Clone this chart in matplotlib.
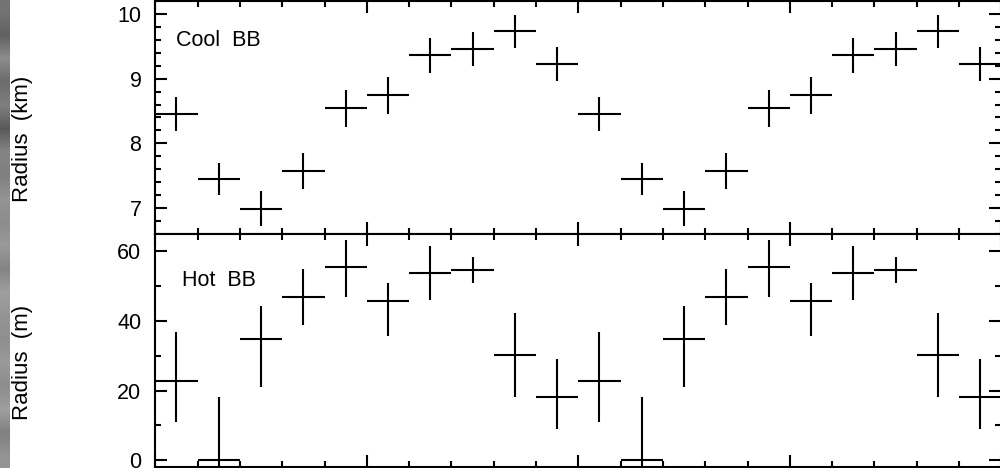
"""Blackbody radius vs pulse phase, two cycles"""

import numpy as np
import matplotlib
matplotlib.use('Agg')
import matplotlib.pyplot as plt
from matplotlib.ticker import MultipleLocator

# phase bins (one cycle, 10 bins of width 0.1)
phase = np.arange(0.05, 1.0, 0.1)
half_bin = 0.05

# cool blackbody radius (km) and its 1-sigma errors
cool_r = [8.45, 7.45, 6.99, 7.57, 8.54, 8.74, 9.36, 9.46, 9.73, 9.23]
cool_err = [0.26, 0.25, 0.27, 0.28, 0.28, 0.28, 0.27, 0.26, 0.26, 0.26]

# hot blackbody radius (m) with lower / upper errors
hot_r = [22.6, 0.0, 34.7, 47.0, 55.4, 45.7, 53.8, 54.7, 30.3, 18.2]
hot_lo = [11.6, 18.2, 13.6, 8.3, 8.4, 10.0, 7.9, 3.8, 12.1, 9.4]
hot_hi = [14.3, 18.2, 9.6, 8.0, 7.8, 5.2, 7.8, 3.6, 12.1, 11.0]

# grey levels of the scanned paper edge, top to bottom
edge_grey = [0.45, 0.38, 0.55, 0.42, 0.5, 0.35, 0.52, 0.5, 0.58, 0.55,
             0.6, 0.52, 0.62, 0.58, 0.56, 0.6, 0.55, 0.62, 0.5, 0.58]

plt.rcParams['font.family'] = ['Liberation Sans', 'DejaVu Sans']

LW = 1.5


def two_cycles(vals):
    return np.concatenate([vals, vals])


def style_axis(ax):
    ax.set_xlim(0.0, 2.0)
    ax.xaxis.set_major_locator(MultipleLocator(0.5))
    ax.xaxis.set_minor_locator(MultipleLocator(0.1))
    ax.tick_params(which='both', direction='in', top=True, right=True,
                   width=LW, labelbottom=False, labelsize=15.5, pad=10)
    ax.tick_params(which='major', length=8.5)
    ax.tick_params(which='minor', length=4.5)
    for sp in ax.spines.values():
        sp.set_linewidth(LW)


fig = plt.figure(figsize=(10.0, 4.68), dpi=100)
left, width = 0.1553, 0.846
ax_cool = fig.add_axes([left, 0.5, width, 0.4979])
ax_hot = fig.add_axes([left, 0.0021, width, 0.4979])

ph = np.concatenate([phase, phase + 1.0])

ax_cool.errorbar(ph, two_cycles(cool_r), xerr=half_bin,
                 yerr=two_cycles(cool_err), fmt='none', ecolor='black',
                 elinewidth=LW, capsize=0)
ax_cool.set_ylim(6.6, 10.2)
ax_cool.yaxis.set_major_locator(MultipleLocator(1))
ax_cool.yaxis.set_minor_locator(MultipleLocator(0.2))
style_axis(ax_cool)
ax_cool.text(0.025, 0.83, 'Cool  BB', transform=ax_cool.transAxes,
             fontsize=15.5, va='center', ha='left')

ax_hot.errorbar(ph, two_cycles(hot_r), xerr=half_bin,
                yerr=[two_cycles(hot_lo), two_cycles(hot_hi)], fmt='none',
                ecolor='black', elinewidth=LW, capsize=0)
ax_hot.set_ylim(-2, 65)
ax_hot.yaxis.set_major_locator(MultipleLocator(20))
ax_hot.yaxis.set_minor_locator(MultipleLocator(10))
style_axis(ax_hot)
ax_hot.text(0.032, 0.80, 'Hot  BB', transform=ax_hot.transAxes,
            fontsize=15.5, va='center', ha='left')

fig.text(0.0225, 1 - 138.5 / 468, 'Radius  (km)', rotation=90,
         fontsize=16, ha='center', va='center')
fig.text(0.0225, 1 - 362.5 / 468, 'Radius  (m)', rotation=90,
         fontsize=16, ha='center', va='center')

# scanned paper edge at the far left
edge = fig.add_axes([0.0, 0.0, 0.0095, 1.0])
edge.imshow(np.array(edge_grey)[:, None], cmap='gray', vmin=0, vmax=1,
            aspect='auto', interpolation='bilinear')
edge.set_axis_off()

fig.savefig('out.png', dpi=100)
